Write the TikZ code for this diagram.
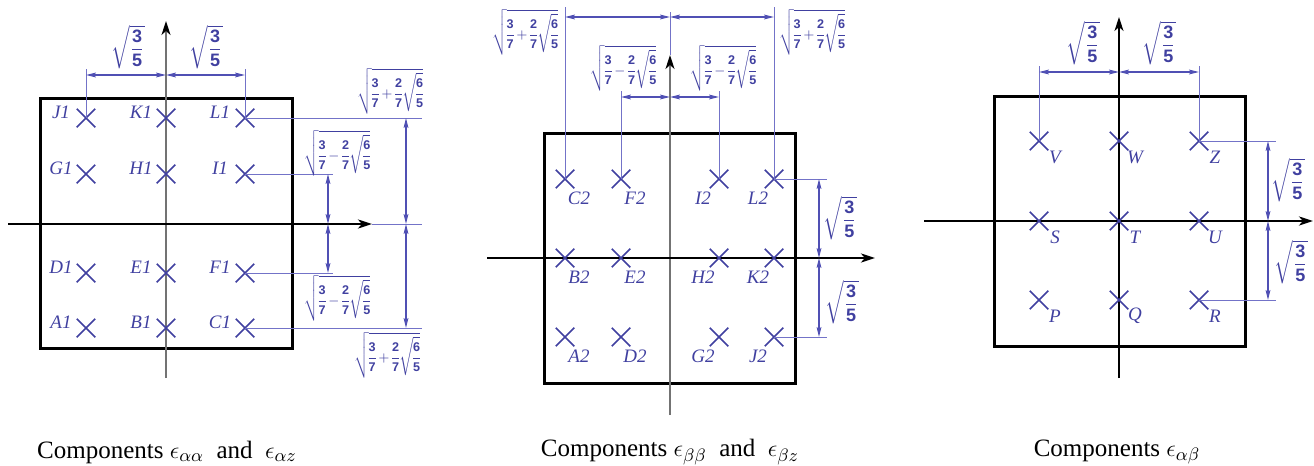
\documentclass[tikz,border=0pt]{standalone}
\usepackage{amsmath}
\usepackage{fontspec}
\setmainfont{Liberation Serif}
\newfontfamily\dgf{Liberation Sans}
\usetikzlibrary{arrows.meta,shapes.misc,calc}
\definecolor{crossc}{RGB}{64,64,160}
\definecolor{dimc}{RGB}{80,80,180}
\definecolor{extc}{RGB}{115,115,200}
\newcommand\dd[1]{\text{\dgf\bfseries #1}}
\newcommand\sqf{\sqrt{\dfrac{\dd3}{\dd5}}}
\newcommand\sqp{\nulldelimiterspace=0pt\sqrt{\dfrac{\dd3}{\dd7}\,{+}\,\dfrac{\dd2}{\dd7}\sqrt{\dfrac{\dd6}{\dd5}}}}
\newcommand\sqm{\nulldelimiterspace=0pt\sqrt{\dfrac{\dd3}{\dd7}\,{-}\,\dfrac{\dd2}{\dd7}\sqrt{\dfrac{\dd6}{\dd5}}}}
\begin{document}
\begin{tikzpicture}[x=0.5pt,y=-0.5pt,
  box/.style={draw=black, line width=1.5pt},
  haxis/.style={line width=1.2pt, -{Stealth[length=7pt,width=4.5pt,inset=2pt]}},
  vaxis/.style={line width=0.9pt, draw=black!55, -{Stealth[length=7pt,width=4.5pt,inset=2pt,color=black]}},
  vaxisb/.style={line width=0.7pt, draw=black, -{Stealth[length=7pt,width=4.5pt,inset=2pt]}},
  crs/.style={cross out, draw=crossc, line width=0.75pt, minimum size=8.5pt, inner sep=0pt},
  lbl/.style={text=crossc, font=\fontsize{9.5}{10}\selectfont\itshape, inner sep=0pt},
  dimarr/.style={draw=dimc, line width=0.55pt, {Stealth[length=5pt,width=2.4pt,inset=1pt]}-{Stealth[length=5pt,width=2.4pt,inset=1pt]}},
  extl/.style={draw=extc, line width=0.5pt},
  mfive/.style={text=crossc, font=\fontsize{9}{10}\selectfont, inner sep=0pt},
  mbig/.style={text=crossc, font=\fontsize{6.3}{7}\selectfont, inner sep=0pt},
  capt/.style={font=\fontsize{12.5}{14}\selectfont, inner sep=0pt}]
\useasboundingbox (0,0) rectangle (1314,466);

% ---------------- Panel 1 ----------------
\draw[box] (40,98) rectangle (292,348);
\coordinate (a1w) at (8,224); \coordinate (a1e) at (372,224);
\coordinate (a1s) at (166,378); \coordinate (a1n) at (166,21);
\draw[vaxis] (a1s) -- (a1n);
\draw[haxis] (a1w) -- (a1e);
\foreach \n/\x/\y in {J1/86/118,K1/166/118,L1/245/118,G1/86/174,H1/166/174,I1/245/174,D1/86/273,E1/166/273,F1/245/273,A1/86/328,B1/166/328,C1/245/328}{
  \node[crs] (\n) at (\x,\y) {};
  \node[lbl] (t\n) at (\x-25,\y-6) {\n};
}
\coordinate (t1) at (0,75); \coordinate (t1e) at (0,69);
\draw[extl] (J1.center) -- (J1.center |- t1e);
\draw[extl] (L1.center) -- (L1.center |- t1e);
\draw[dimarr] (J1 |- t1) -- (K1 |- t1);
\draw[dimarr] (K1 |- t1) -- (L1 |- t1);
\node[mfive] (m1a) at (128,47) {$\sqf$};
\node[mfive] (m1b) at (206,47) {$\sqf$};
\coordinate (r1a) at (328,0); \coordinate (r1b) at (406,0);
\coordinate (r1ea) at (333,0); \coordinate (r1eb) at (422,0);
\draw[extl] (L1.center) -- (L1.center -| r1eb);
\draw[extl] (I1.center) -- (I1.center -| r1ea);
\draw[extl] (F1.center) -- (F1.center -| r1ea);
\draw[extl] (C1.center) -- (C1.center -| r1eb);
\draw[extl] (a1e) -- (a1e -| r1eb);
\draw[dimarr] (r1a |- I1) -- (r1a |- a1e);
\draw[dimarr] (r1a |- a1e) -- (r1a |- F1);
\draw[dimarr] (r1b |- L1) -- (r1b |- a1e);
\draw[dimarr] (r1b |- a1e) -- (r1b |- C1);
\node[mbig] (m1c) at (390,91) {$\sqp$};
\node[mbig] (m1d) at (337,153) {$\sqm$};
\node[mbig] (m1e) at (337,298) {$\sqm$};
\node[mbig] (m1f) at (387,355) {$\sqp$};
\node[capt] (cap1) at (167,452) {Components $\epsilon_{\alpha\alpha}$\ \ and\ \ $\epsilon_{\alpha z}$};

% ---------------- Panel 2 ----------------
\draw[box] (544,133) rectangle (795,383);
\coordinate (a2w) at (487,258); \coordinate (a2e) at (875,258);
\coordinate (a2s) at (670,415); \coordinate (a2n) at (670,55);
\draw[vaxis] (a2s) -- (a2n);
\draw[haxis] (a2w) -- (a2e);
\foreach \n/\x/\y/\d in {C2/565/179/14,F2/621/179/14,I2/719/179/-16,L2/774/179/-16,B2/565/258/14,E2/621/258/14,H2/719/258/-16,K2/774/258/-16,A2/565/337/14,D2/621/337/14,G2/719/337/-16,J2/774/337/-16}{
  \node[crs] (\n) at (\x,\y) {};
  \node[lbl] (t\n) at (\x+\d,\y+19) {\n};
}
\coordinate (t2o) at (0,17); \coordinate (t2oe) at (0,7);
\coordinate (t2i) at (0,97); \coordinate (t2ie) at (0,91);
\coordinate (t2c) at (0,12);
\draw[extl] (C2.center) -- (C2.center |- t2oe);
\draw[extl] (L2.center) -- (L2.center |- t2oe);
\draw[extl] (F2.center) -- (F2.center |- t2ie);
\draw[extl] (I2.center) -- (I2.center |- t2ie);
\draw[extl] (a2n) -- (a2n |- t2c);
\draw[dimarr] (C2 |- t2o) -- (a2n |- t2o);
\draw[dimarr] (a2n |- t2o) -- (L2 |- t2o);
\draw[dimarr] (F2 |- t2i) -- (a2n |- t2i);
\draw[dimarr] (a2n |- t2i) -- (I2 |- t2i);
\node[mbig] (m2a) at (525,32) {$\sqp$};
\node[mbig] (m2b) at (812,32) {$\sqp$};
\node[mbig] (m2c) at (623,68) {$\sqm$};
\node[mbig] (m2d) at (723,68) {$\sqm$};
\coordinate (r2) at (819,0); \coordinate (r2e) at (827,0);
\draw[extl] (L2.center) -- (L2.center -| r2e);
\draw[extl] (J2.center) -- (J2.center -| r2e);
\draw[dimarr] (r2 |- L2) -- (r2 |- a2e);
\draw[dimarr] (r2 |- a2e) -- (r2 |- J2);
\node[mfive] (m2e) at (840,218) {$\sqf$};
\node[mfive] (m2f) at (842,302) {$\sqf$};
\node[capt] (cap2) at (670,452) {Components $\epsilon_{\beta\beta}$\ \ and\ \ $\epsilon_{\beta z}$};

% ---------------- Panel 3 ----------------
\draw[box] (994,96) rectangle (1245,346);
\coordinate (a3w) at (924,221); \coordinate (a3e) at (1313,221);
\coordinate (a3s) at (1119,378); \coordinate (a3n) at (1119,17);
\draw[vaxisb] (a3s) -- (a3n);
\draw[haxis] (a3w) -- (a3e);
\foreach \n/\x/\y in {V/1039/141,W/1119/141,Z/1199/141,S/1039/221,T/1119/221,U/1199/221,P/1039/300,Q/1119/300,R/1199/300}{
  \node[crs] (\n) at (\x,\y) {};
  \node[lbl] (t\n) at (\x+16,\y+16) {\n};
}
\coordinate (t3) at (0,72); \coordinate (t3e) at (0,66);
\draw[extl] (V.center) -- (V.center |- t3e);
\draw[extl] (Z.center) -- (Z.center |- t3e);
\draw[dimarr] (V |- t3) -- (W |- t3);
\draw[dimarr] (W |- t3) -- (Z |- t3);
\node[mfive] (m3a) at (1083,43) {$\sqf$};
\node[mfive] (m3b) at (1159,43) {$\sqf$};
\coordinate (r3) at (1268,0); \coordinate (r3e) at (1276,0);
\draw[extl] (Z.center) -- (Z.center -| r3e);
\draw[extl] (R.center) -- (R.center -| r3e);
\draw[dimarr] (r3 |- Z) -- (r3 |- a3e);
\draw[dimarr] (r3 |- a3e) -- (r3 |- R);
\node[mfive] (m3c) at (1288,180) {$\sqf$};
\node[mfive] (m3d) at (1291,262) {$\sqf$};
\node[capt] (cap3) at (1117,452) {Components $\epsilon_{\alpha\beta}$};
\end{tikzpicture}
\end{document}
